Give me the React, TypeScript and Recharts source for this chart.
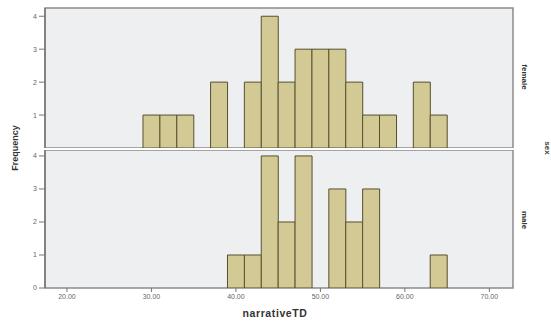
import React from "react";
import { BarChart, Bar, XAxis, YAxis, CartesianGrid, ReferenceArea } from "recharts";

const binStarts = [29, 31, 33, 35, 37, 39, 41, 43, 45, 47, 49, 51, 53, 55, 57, 59, 61, 63];
const femaleCounts = [1, 1, 1, 0, 2, 0, 2, 4, 2, 3, 3, 3, 2, 1, 1, 0, 2, 1];
const maleCounts = [0, 0, 0, 0, 0, 1, 1, 4, 2, 4, 0, 3, 2, 3, 0, 0, 0, 1];
const xTicks = [20, 30, 40, 50, 60, 70];
const yTicks = [0, 1, 2, 3, 4];
const panelLabels = ["female", "male"];

const BIN_WIDTH = 2;
const X_DOMAIN: [number, number] = [17.4, 72.8];

const femaleData = binStarts.map((s, i) => ({ mid: s + BIN_WIDTH / 2, count: femaleCounts[i] }));
const maleData = binStarts.map((s, i) => ({ mid: s + BIN_WIDTH / 2, count: maleCounts[i] }));

const FONT = "'Liberation Sans', Arial, sans-serif";
const BAR_FILL = "#d2c994";
const BAR_STROKE = "#55502e";
const BG = "#eeeff0";
const BORDER = "#8c8c8c";
const TICK_STYLE = { fontSize: 7, fill: "#666", fontFamily: FONT };

function Panel({ data, height, yMax, showX, marginTop }: { data: any[]; height: number; yMax: number; showX: boolean; marginTop: number }) {
  return (
    <BarChart
      width={551}
      height={height}
      data={data}
      margin={{ top: marginTop, right: 38, bottom: 0, left: 0 }}
      barCategoryGap={0}
      barGap={0}
    >
      <CartesianGrid horizontal={false} vertical={false} fill={BG} />
      <XAxis
        dataKey="mid"
        type="number"
        domain={X_DOMAIN}
        ticks={xTicks}
        allowDataOverflow
        hide={!showX}
        height={showX ? 33 : 0}
        axisLine={false}
        tickLine={{ stroke: "#777" }}
        tickSize={4}
        tick={TICK_STYLE}
        tickFormatter={(v: number) => v.toFixed(2)}
      />
      <YAxis
        type="number"
        domain={[0, yMax]}
        ticks={yTicks}
        allowDataOverflow
        width={45}
        axisLine={{ stroke: "#777", strokeWidth: 1.5 }}
        tickLine={{ stroke: "#777" }}
        tickSize={6}
        tick={TICK_STYLE}
      />
      <Bar dataKey="count" fill={BAR_FILL} stroke={BAR_STROKE} strokeWidth={1} isAnimationActive={false} />
      <ReferenceArea x1={X_DOMAIN[0]} x2={X_DOMAIN[1]} y1={0} y2={yMax} fill="none" stroke={BORDER} strokeWidth={1.5} ifOverflow="visible" />
    </BarChart>
  );
}

export default function App() {
  return (
    <div style={{ position: "absolute", left: 0, top: 0, width: 551, height: 321, background: "#fff", overflow: "hidden" }}>
      <div style={{ position: "absolute", left: 0, top: 0 }}>
        <Panel data={femaleData} height={148} yMax={4.25} showX={false} marginTop={8} />
      </div>
      <div style={{ position: "absolute", left: 0, top: 150 }}>
        <Panel data={maleData} height={171} yMax={4.18} showX={true} marginTop={0} />
      </div>
      <svg width={551} height={321} style={{ position: "absolute", left: 0, top: 0, pointerEvents: "none" }}>
        <text x={15} y={148} transform="rotate(-90 15 148)" textAnchor="middle" dominantBaseline="central" fontFamily={FONT} fontWeight="bold" fontSize={9} fill="#333">
          Frequency
        </text>
        <text x={275} y={313} textAnchor="middle" dominantBaseline="central" fontFamily={FONT} fontWeight="bold" fontSize={10.5} letterSpacing={0.6} fill="#333">
          narrativeTD
        </text>
        <text x={524} y={77} transform="rotate(90 524 77)" textAnchor="middle" dominantBaseline="central" fontFamily={FONT} fontWeight="bold" fontSize={8} fill="#333">
          {panelLabels[0]}
        </text>
        <text x={524} y={220} transform="rotate(90 524 220)" textAnchor="middle" dominantBaseline="central" fontFamily={FONT} fontWeight="bold" fontSize={8} fill="#333">
          {panelLabels[1]}
        </text>
        <text x={547} y={148} transform="rotate(90 547 148)" textAnchor="middle" dominantBaseline="central" fontFamily={FONT} fontWeight="bold" fontSize={8} fill="#444">
          sex
        </text>
      </svg>
    </div>
  );
}
